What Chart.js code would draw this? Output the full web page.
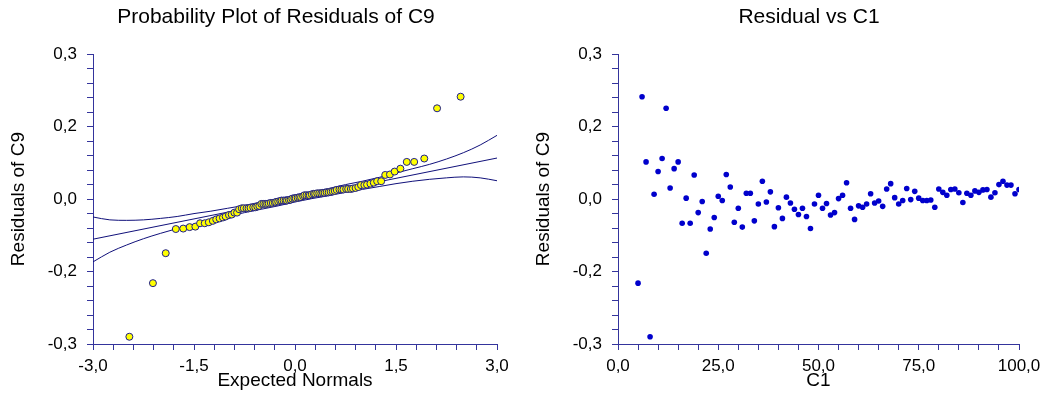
<!DOCTYPE html>
<html>
<head>
<meta charset="utf-8">
<script src="https://cdn.jsdelivr.net/npm/chart.js@4.4.1/dist/chart.umd.min.js"></script>
<style>
html, body { margin: 0; padding: 0; width: 1046px; height: 394px; overflow: hidden; background: #fff; }
canvas { position: absolute; top: 0; }
#probChart { left: 0; }
#residChart { left: 530px; }
</style>
</head>
<body>
<canvas id="probChart" width="552" height="394"></canvas>
<canvas id="residChart" width="558" height="394"></canvas>
<script>
// ===== Data =====

const c1 = [5, 6, 7, 8, 9, 10, 11, 12, 13, 14, 15, 16, 17, 18, 19, 20, 21, 22, 23, 24,
  25, 26, 27, 28, 29, 30, 31, 32, 33, 34, 35, 36, 37, 38, 39, 40, 41, 42, 43, 44,
  45, 46, 47, 48, 49, 50, 51, 52, 53, 54, 55, 56, 57, 58, 59, 60, 61, 62, 63, 64,
  65, 66, 67, 68, 69, 70, 71, 72, 73, 74, 75, 76, 77, 78, 79, 80, 81, 82, 83, 84,
  85, 86, 87, 88, 89, 90, 91, 92, 93, 94, 95, 96, 97, 98, 99, 100];

const residuals = [-0.174, 0.212, 0.077, -0.285, 0.010, 0.057, 0.084, 0.188, 0.023, 0.063,
  0.077, -0.050, 0.002, -0.050, 0.050, -0.028, -0.005, -0.112, -0.062, -0.038,
  0.006, -0.003, 0.051, 0.025, -0.048, -0.019, -0.058, 0.012, 0.012, -0.045,
  -0.010, 0.037, -0.006, 0.015, -0.057, -0.018, -0.040, 0.004, -0.008, -0.021,
  -0.032, -0.019, -0.036, -0.061, -0.010, 0.008, -0.019, -0.009, -0.033, -0.028,
  0.001, 0.008, 0.034, -0.019, -0.042, -0.014, -0.017, -0.010, 0.011, -0.008,
  -0.004, -0.015, 0.021, 0.032, 0.003, -0.010, -0.003, 0.022, -0.001, 0.016,
  0.002, -0.003, -0.003, -0.002, -0.017, 0.021, 0.014, 0.008, 0.020, 0.021,
  0.013, -0.007, 0.012, 0.008, 0.017, 0.014, 0.019, 0.020, 0.004, 0.013,
  0.030, 0.037, 0.029, 0.029, 0.011, 0.020];

// expected normal scores, one per ranked residual
const expectedNormals = [-2.46, -2.11, -1.92, -1.77, -1.66, -1.565, -1.48, -1.41, -1.34, -1.28,
  -1.22, -1.17, -1.12, -1.07, -1.03, -0.98, -0.94, -0.90, -0.86, -0.83,
  -0.79, -0.76, -0.72, -0.69, -0.66, -0.62, -0.59, -0.56, -0.53, -0.50,
  -0.47, -0.44, -0.415, -0.39, -0.36, -0.33, -0.30, -0.28, -0.25, -0.22,
  -0.20, -0.17, -0.14, -0.12, -0.09, -0.065, -0.04, -0.01,
  0.01, 0.04, 0.065, 0.09, 0.12, 0.14, 0.17, 0.20, 0.22, 0.25,
  0.28, 0.30, 0.33, 0.36, 0.39, 0.415, 0.44, 0.47, 0.50, 0.53,
  0.56, 0.59, 0.62, 0.66, 0.69, 0.72, 0.76, 0.79, 0.83, 0.86,
  0.90, 0.94, 0.98, 1.03, 1.07, 1.12, 1.17, 1.22, 1.28, 1.34,
  1.41, 1.48, 1.565, 1.66, 1.77, 1.92, 2.11, 2.46];

// reference line and confidence band
const fitX = [-3, 3];
const fitY = [-0.083, 0.085];
const bandX = [-3, -2.75, -2.5, -2.25, -2, -1.75, -1.5, -1.25, -1, -0.75, -0.5, -0.25, 0,
  0.25, 0.5, 0.75, 1, 1.25, 1.5, 1.75, 2, 2.25, 2.5, 2.75, 3];
const upperBand = [-0.037, -0.043, -0.044, -0.043, -0.040, -0.036, -0.030, -0.025, -0.019, -0.013, -0.006, 0.001, 0.008,
  0.015, 0.022, 0.030, 0.037, 0.045, 0.054, 0.063, 0.072, 0.083, 0.096, 0.112, 0.132];
const lowerBand = [-0.130, -0.110, -0.095, -0.082, -0.071, -0.061, -0.052, -0.044, -0.036, -0.028, -0.021, -0.014, -0.006,
  0.001, 0.007, 0.014, 0.020, 0.026, 0.032, 0.037, 0.041, 0.044, 0.046, 0.044, 0.038];

// ticks
const yMajor = [-0.3, -0.15, 0, 0.15, 0.3];
const yLabels = ["-0,3", "-0,2", "0,0", "0,2", "0,3"];
const normMajor = [-3, -1.5, 0, 1.5, 3];
const normLabels = ["-3,0", "-1,5", "0,0", "1,5", "3,0"];
const c1Major = [0, 25, 50, 75, 100];
const c1Labels = ["0,0", "25,0", "50,0", "75,0", "100,0"];


// ===== Helpers =====

const AXIS_COLOR = "#34349c";
const LINE_COLOR = "#10107a";

Chart.defaults.font.family = "'Liberation Sans', Arial, sans-serif";
Chart.defaults.color = "#000";

function minorTicks(min, max, step) {
    const out = [];
    const n = Math.round((max - min) / step);
    for (let i = 0; i <= n; i++) out.push({ value: +(min + i * step).toFixed(4) });
    return out;
}

function axis(o) {
    const left = o.position === "left";
    return {
        type: "linear",
        position: o.position,
        min: o.min,
        max: o.max,
        afterBuildTicks: s => { s.ticks = minorTicks(o.min, o.max, o.step); },
        afterFit: s => { if (left) s.width = o.size; else s.height = o.size; },
        border: { display: true, color: AXIS_COLOR, width: 1 },
        grid: { drawOnChartArea: false, drawTicks: true, tickLength: 6, color: AXIS_COLOR, tickColor: AXIS_COLOR },
        ticks: {
            autoSkip: false,
            maxRotation: 0,
            padding: left ? 10 : 6,
            font: { size: 17 },
            callback: v => {
                const i = o.majors.findIndex(m => Math.abs(m - v) < 1e-6);
                return i >= 0 ? o.labels[i] : "";
            }
        },
        title: { display: true, text: o.title, font: { size: 19 }, padding: o.titlePad }
    };
}

function gapAxis(w) {
    return {
        type: "linear",
        position: "right",
        grid: { display: false, drawTicks: false },
        border: { display: false },
        ticks: { display: false },
        afterFit: s => { s.width = w; }
    };
}

function baseOptions(title, scales) {
    return {
        responsive: false,
        animation: false,
        events: [],
        layout: { padding: 0 },
        plugins: {
            legend: { display: false },
            tooltip: { enabled: false },
            title: { display: true, text: title, font: { size: 21, weight: "normal" }, color: "#000", padding: { top: 5, bottom: 24 } }
        },
        scales: scales
    };
}


// ===== Probability plot =====

const sortedResiduals = residuals.slice().sort((a, b) => a - b);

new Chart(document.getElementById("probChart"), {
    type: "scatter",
    data: {
        datasets: [
            {
                data: expectedNormals.map((x, i) => ({ x: x, y: sortedResiduals[i] })),
                pointRadius: 3.5,
                pointBackgroundColor: "#ffff00",
                pointBorderColor: "#1c1c8c",
                pointBorderWidth: 1,
                order: 0
            },
            {
                data: fitX.map((x, i) => ({ x: x, y: fitY[i] })),
                showLine: true, pointRadius: 0, borderColor: LINE_COLOR, borderWidth: 1, order: 1
            },
            {
                data: bandX.map((x, i) => ({ x: x, y: upperBand[i] })),
                showLine: true, pointRadius: 0, borderColor: LINE_COLOR, borderWidth: 1,
                cubicInterpolationMode: "monotone", order: 1
            },
            {
                data: bandX.map((x, i) => ({ x: x, y: lowerBand[i] })),
                showLine: true, pointRadius: 0, borderColor: LINE_COLOR, borderWidth: 1,
                cubicInterpolationMode: "monotone", order: 1
            }
        ]
    },
    options: baseOptions("Probability Plot of Residuals of C9", {
        x: axis({ position: "bottom", min: -3, max: 3, step: 0.3, majors: normMajor, labels: normLabels,
            size: 50, title: "Expected Normals", titlePad: { bottom: 2 } }),
        y: axis({ position: "left", min: -0.3, max: 0.3, step: 0.03, majors: yMajor, labels: yLabels,
            size: 93, title: "Residuals of C9", titlePad: { top: 7 } }),
        gap: gapAxis(55)
    })
});


// ===== Residual vs C1 =====

new Chart(document.getElementById("residChart"), {
    type: "scatter",
    data: {
        datasets: [{
            data: c1.map((x, i) => ({ x: x, y: residuals[i] })),
            pointRadius: 2.8,
            pointBackgroundColor: "#0000cc",
            pointBorderColor: "#0000cc",
            pointBorderWidth: 0
        }]
    },
    options: baseOptions("Residual vs C1", {
        x: axis({ position: "bottom", min: 0, max: 100, step: 5, majors: c1Major, labels: c1Labels,
            size: 50, title: "C1", titlePad: { bottom: 2 } }),
        y: axis({ position: "left", min: -0.3, max: 0.3, step: 0.03, majors: yMajor, labels: yLabels,
            size: 88, title: "Residuals of C9", titlePad: { top: 2 } }),
        gap: gapAxis(69)
    })
});
</script>
</body>
</html>
